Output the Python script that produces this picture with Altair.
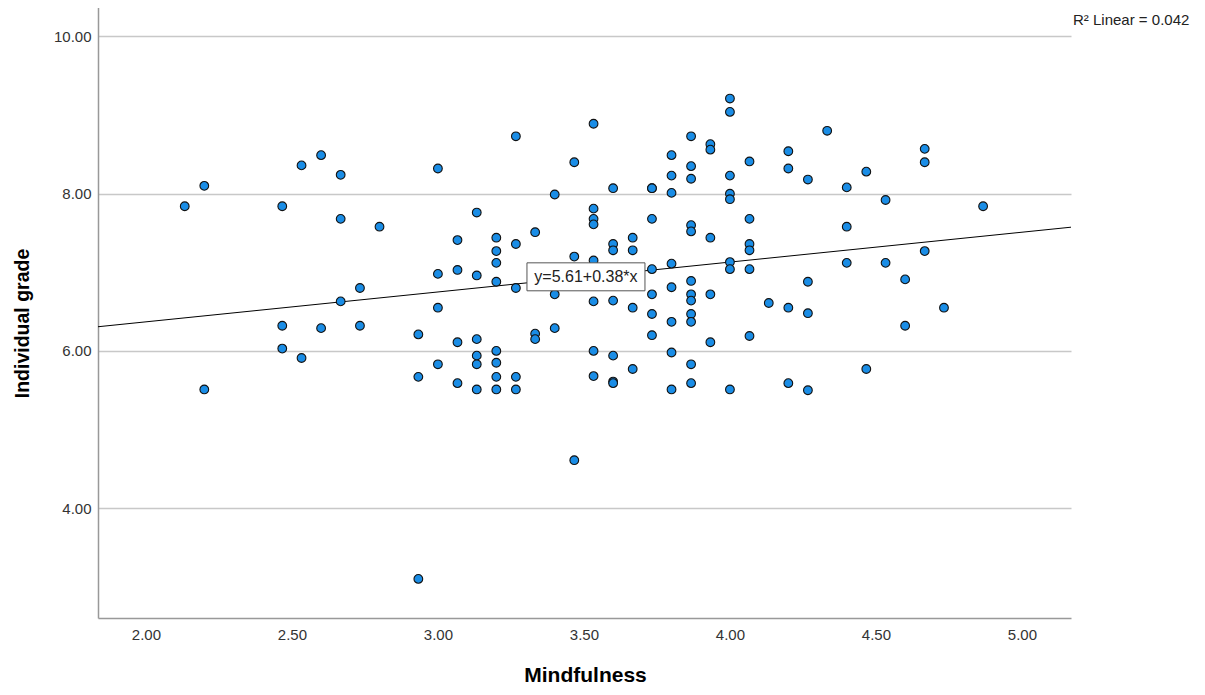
import altair as alt
import pandas as pd

# ---- data (Mindfulness steps of 1/15) ----
mindfulness = (
    [2.133]
    + [2.2] * 2
    + [2.467] * 3
    + [2.533] * 2
    + [2.6] * 2
    + [2.667] * 3
    + [2.733] * 2
    + [2.8]
    + [2.933] * 3
    + [3.0] * 4
    + [3.067] * 4
    + [3.133] * 6
    + [3.2] * 8
    + [3.267] * 5
    + [3.333] * 3
    + [3.4] * 3
    + [3.467] * 3
    + [3.533] * 8
    + [3.6] * 7
    + [3.667] * 4
    + [3.733] * 7
    + [3.8] * 8
    + [3.867] * 12
    + [3.933] * 5
    + [4.0] * 8
    + [4.067] * 6
    + [4.133]
    + [4.2] * 4
    + [4.267] * 4
    + [4.333]
    + [4.4] * 3
    + [4.467] * 2
    + [4.533] * 2
    + [4.6] * 2
    + [4.667] * 3
    + [4.733]
    + [4.867]
)

grade = [
    7.84,
    8.10, 5.51,
    7.84, 6.32, 6.03,
    8.36, 5.91,
    8.49, 6.29,
    8.24, 7.68, 6.63,
    6.80, 6.32,
    7.58,
    6.21, 5.67, 3.10,
    8.32, 6.98, 6.55, 5.83,
    7.41, 7.03, 6.11, 5.59,
    7.76, 6.96, 6.15, 5.94, 5.83, 5.51,
    7.44, 7.27, 7.12, 6.88, 6.00, 5.85, 5.67, 5.51,
    8.73, 7.36, 6.80, 5.67, 5.51,
    7.51, 6.22, 6.15,
    7.99, 6.72, 6.29,
    8.40, 7.20, 4.61,
    8.89, 7.81, 7.68, 7.61, 7.15, 6.63, 6.00, 5.68,
    8.07, 7.36, 7.28, 6.64, 5.94, 5.61, 5.59,
    7.44, 7.28, 6.55, 5.77,
    8.07, 8.07, 7.68, 7.04, 6.72, 6.47, 6.20,
    8.49, 8.23, 8.01, 7.11, 6.81, 6.37, 5.98, 5.51,
    8.73, 8.35, 8.19, 7.60, 7.52, 6.89, 6.72, 6.64, 6.47, 6.37, 5.83, 5.59,
    8.63, 8.56, 7.44, 6.72, 6.11,
    9.21, 9.04, 8.23, 8.00, 7.93, 7.13, 7.04, 5.51,
    8.41, 7.68, 7.36, 7.28, 7.04, 6.19,
    6.61,
    8.54, 8.32, 6.55, 5.59,
    8.18, 6.88, 6.48, 5.50,
    8.80,
    8.08, 7.58, 7.12,
    8.28, 5.77,
    7.92, 7.12,
    6.91, 6.32,
    8.57, 8.40, 7.27,
    6.55,
    7.84,
]

intercept = 5.61
slope = 0.38
eq_text = "y=5.61+0.38*x"
r2_text = "R\u00b2 Linear = 0.042"
label_at = 3.507

x_domain = [1.836, 5.168]
y_domain = [2.603, 10.40]
x_ticks = [2.0, 2.5, 3.0, 3.5, 4.0, 4.5, 5.0]
y_ticks = [4.0, 6.0, 8.0, 10.0]

pts = pd.DataFrame({"m": mindfulness, "g": grade})
fit = pd.DataFrame({"m": x_domain, "g": [intercept + slope * v for v in x_domain]})
lab = pd.DataFrame({"m": [label_at], "g": [intercept + slope * label_at], "t": [eq_text]})
r2 = pd.DataFrame({"t": [r2_text]})

FONT = "Liberation Sans"

xs = alt.Scale(domain=x_domain, nice=False, zero=False)
ys = alt.Scale(domain=y_domain, nice=False, zero=False)

x_axis = alt.Axis(
    values=x_ticks, format=".2f", grid=False, ticks=False, tickSize=0,
    labelPadding=9, labelFontSize=15, labelColor="#333333", labelFont=FONT,
    title="Mindfulness", titleFont=FONT, titleFontSize=21, titleFontWeight="bold",
    titleColor="#000000", titleX=487, titleY=63, titleAlign="center",
    titleBaseline="alphabetic", domainColor="#999999", domainWidth=1.5,
)
y_axis = alt.Axis(
    values=y_ticks, format=".2f", grid=True, gridColor="#c8c8c8", gridWidth=1.5,
    ticks=False, tickSize=0, labelPadding=7, labelFontSize=15,
    labelColor="#333333", labelFont=FONT,
    title="Individual grade", titleFont=FONT, titleFontSize=19.5,
    titleFontWeight="bold", titleColor="#000000", titleAngle=270,
    titleX=-70, titleY=318, titleAlign="center", titleBaseline="alphabetic",
    domainColor="#999999", domainWidth=1.5,
)

points = alt.Chart(pts).mark_point(
    filled=True, fill="#1a8de6", stroke="#111111", strokeWidth=1.1,
    size=76, opacity=1, shape="circle",
).encode(
    x=alt.X("m:Q", scale=xs, axis=x_axis),
    y=alt.Y("g:Q", scale=ys, axis=y_axis),
)

line = alt.Chart(fit).mark_line(color="#000000", strokeWidth=1, clip=True).encode(
    x=alt.X("m:Q", scale=xs),
    y=alt.Y("g:Q", scale=ys),
)

box = alt.Chart(lab).mark_point(
    shape="M-1,-0.237L1,-0.237L1,0.237L-1,0.237Z", size=118 * 118,
    filled=True, fill="#ffffff", stroke="#555555", strokeWidth=1, opacity=1,
).encode(
    x=alt.X("m:Q", scale=xs),
    y=alt.Y("g:Q", scale=ys),
)

eq = alt.Chart(lab).mark_text(
    font=FONT, fontSize=16, color="#222222", align="center", baseline="middle",
).encode(
    x=alt.X("m:Q", scale=xs),
    y=alt.Y("g:Q", scale=ys),
    text="t:N",
)

r2_mark = alt.Chart(r2).mark_text(
    font=FONT, fontSize=15, color="#222222", align="left", baseline="alphabetic",
).encode(
    x=alt.value(975),
    y=alt.value(20),
    text="t:N",
)

chart = alt.layer(line, points, box, eq, r2_mark).properties(
    width=973, height=613,
    autosize=alt.AutoSizeParams(type="none"),
    padding={"left": 90, "top": -3, "right": 126, "bottom": 67},
    background="#ffffff",
).configure_view(stroke=None)

chart.save("out.html", embed_options={"renderer": "svg", "actions": False})
